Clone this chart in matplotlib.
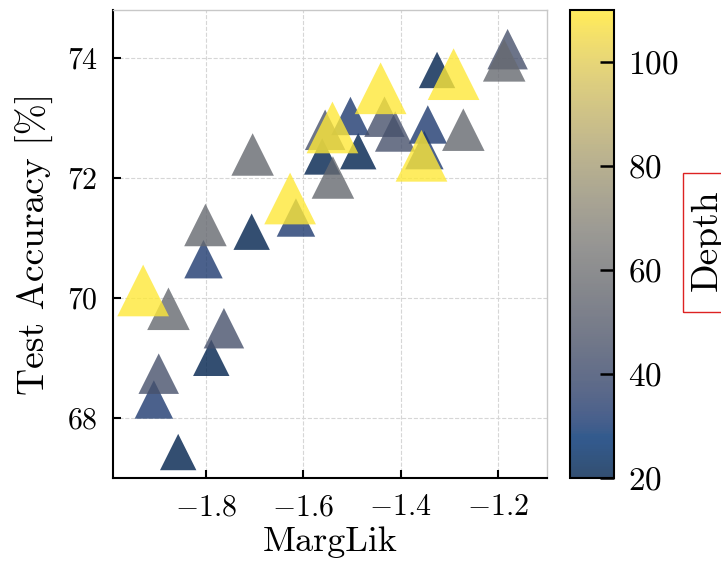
import numpy as np
import matplotlib.pyplot as plt
from matplotlib.patches import Rectangle

plt.rcParams['font.family'] = 'cmr10'
plt.rcParams['mathtext.fontset'] = 'cm'
plt.rcParams['axes.formatter.use_mathtext'] = True

# Data (grouped by depth, shallow first so deep ones sit on top)
marglik = [-1.706, -1.789, -1.857, -1.487, -1.561, -1.325,
           -1.615, -1.805, -1.907, -1.503, -1.344, -1.351,
           -1.763, -1.897, -1.433, -1.411, -1.555, -1.180,
           -1.704, -1.801, -1.877, -1.539, -1.187, -1.271,
           -1.627, -1.929, -1.441, -1.540, -1.291, -1.357]
accuracy = [71.105, 69.000, 67.427, 72.449, 72.361, 73.805,
            71.342, 70.646, 68.304, 73.037, 72.895, 72.467,
            69.494, 68.735, 73.025, 72.778, 72.806, 74.152,
            72.394, 71.217, 69.818, 72.010, 73.965, 72.808,
            71.659, 70.124, 73.499, 72.845, 73.735, 72.372]
depth = [20, 20, 20, 20, 20, 20,
         32, 32, 32, 32, 32, 32,
         44, 44, 44, 44, 44, 44,
         56, 56, 56, 56, 56, 56,
         110, 110, 110, 110, 110, 110]

depth = np.array(depth)
sizes = (23.76 + 0.1224 * depth) ** 2

fig = plt.figure(figsize=(7.21, 5.62), dpi=100)
ax = fig.add_axes([0.1567, 0.1489, 0.602, 0.8333])
cax = fig.add_axes([0.7906, 0.1489, 0.061, 0.8333])

sc = ax.scatter(marglik, accuracy, c=depth, s=sizes, marker='^', cmap='cividis',
                vmin=20, vmax=110, alpha=0.8, linewidths=0)

ax.set_xlim(-1.991, -1.099)
ax.set_ylim(66.988, 74.806)
ax.set_xticks([-1.8, -1.6, -1.4, -1.2])
ax.set_yticks([68, 70, 72, 74])
ax.set_axisbelow(True)
ax.grid(True, ls='--', color='#d6d6d6', lw=0.8)

for side in ['left', 'bottom']:
    ax.spines[side].set_linewidth(1.5)
    ax.spines[side].set_color('black')
for side in ['top', 'right']:
    ax.spines[side].set_linewidth(1.0)
    ax.spines[side].set_color('#c8c8c8')

ax.tick_params(direction='in', length=6, width=1.5, labelsize=21.5, pad=11)
ax.set_xlabel('MargLik', fontsize=26, labelpad=4)
ax.set_ylabel('Test Accuracy [%]', fontsize=27, labelpad=9)

cbar = fig.colorbar(sc, cax=cax)
cbar.set_ticks([20, 40, 60, 80, 100])
cbar.outline.set_linewidth(1.5)
cax.tick_params(direction='in', length=10, width=1.8, labelsize=24, pad=10)

fig.text(0.9577, 0.573, 'Depth', rotation=90, fontsize=27, ha='left', va='center')
fig.patches.append(Rectangle((0.947, 0.4443), 0.1, 0.2473, transform=fig.transFigure,
                             fill=False, edgecolor='#dd2222', lw=1.0, figure=fig))

fig.savefig('out.png', dpi=100)
